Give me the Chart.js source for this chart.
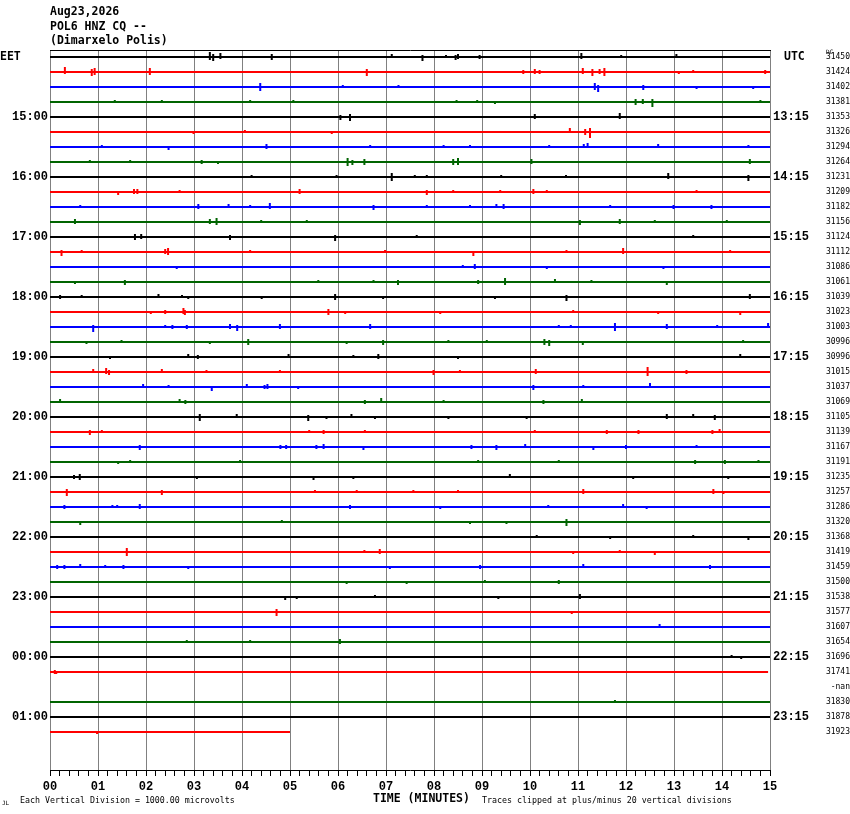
<!DOCTYPE html>
<html>
<head>
<meta charset="utf-8">
<script src="https://cdn.jsdelivr.net/npm/chart.js@4.4.1/dist/chart.umd.min.js"></script>
<style>
  html, body { margin: 0; padding: 0; background: #ffffff; }
  canvas { display: block; }
</style>
</head>
<body>
<canvas id="heliChart" width="850" height="814"></canvas>
<script>
// helicorder header
const stationDate = 'Aug23,2026';
const stationCode = 'POL6 HNZ CQ --';
const stationName = '(Dimarxelo Polis)';

// x axis: minutes after the start of each line
const minuteLabels = ['00', '01', '02', '03', '04', '05', '06', '07', '08', '09', '10', '11', '12', '13', '14', '15'];

// hour labels, one every 4 lines
const eetLabels = ['15:00', '16:00', '17:00', '18:00', '19:00', '20:00', '21:00', '22:00', '23:00', '00:00', '01:00'];
const utcLabels = ['13:15', '14:15', '15:15', '16:15', '17:15', '18:15', '19:15', '20:15', '21:15', '22:15', '23:15'];

// DC offset of every line
const dcOffsets = [
    '31450', '31424', '31402', '31381', '31353', '31326', '31294', '31264',
    '31231', '31209', '31182', '31156', '31124', '31112', '31086', '31061',
    '31039', '31023', '31003', '30996', '30996', '31015', '31037', '31069',
    '31105', '31139', '31167', '31191', '31235', '31257', '31286', '31320',
    '31368', '31419', '31459', '31500', '31538', '31577', '31607', '31654',
    '31696', '31741', '-nan', '31830', '31878', '31923'
];

// minute where each line stops (null = no data)
const traceEnds = [
    15, 15, 15, 15, 15, 15, 15, 15, 15, 15, 15, 15, 15, 15, 15, 15,
    15, 15, 15, 15, 15, 15, 15, 15, 15, 15, 15, 15, 15, 15, 15, 15,
    15, 15, 15, 15, 15, 15, 15, 15, 15, 14.96, null, 15, 15, 5
];

// wiggles on each line: [minute, up, down]
const traceEvents = [
    [[3.33, 5, 3], [3.4, 3, 4], [3.55, 4, 2], [4.62, 3, 3], [7.12, 3, 1], [7.76, 2, 4], [8.25, 2, 1], [8.45, 2, 3], [8.5, 3, 2], [8.95, 2, 2], [11.07, 4, 2], [11.9, 2, 1], [13.05, 3, 1]],
    [[0.31, 5, 2], [0.87, 3, 4], [0.93, 4, 3], [2.08, 4, 3], [6.6, 3, 4], [9.86, 2, 2], [10.1, 3, 2], [10.2, 2, 2], [11.1, 4, 2], [11.3, 3, 4], [11.45, 3, 2], [11.55, 4, 4], [13.1, 1, 2], [13.4, 2, 1], [14.9, 2, 2]],
    [[4.38, 4, 4], [6.1, 2, 1], [7.26, 2, 1], [11.35, 4, 3], [11.42, 2, 5], [12.36, 2, 3], [13.47, 1, 2], [14.65, 1, 2]],
    [[1.35, 2, 1], [2.33, 2, 1], [4.17, 2, 1], [5.07, 2, 1], [8.47, 2, 1], [8.9, 2, 1], [9.27, 1, 2], [12.2, 3, 3], [12.35, 3, 2], [12.55, 3, 5], [14.8, 2, 1]],
    [[6.05, 2, 3], [6.25, 3, 4], [10.1, 3, 2], [11.87, 4, 2]],
    [[2.99, 1, 2], [4.06, 2, 1], [5.87, 1, 2], [10.83, 4, 0], [11.15, 3, 3], [11.25, 4, 6]],
    [[1.08, 2, 1], [2.47, 1, 3], [4.51, 3, 2], [6.67, 2, 1], [8.2, 2, 1], [8.75, 2, 1], [10.4, 2, 1], [11.12, 3, 1], [11.2, 4, 1], [12.67, 3, 1], [14.55, 2, 1]],
    [[0.83, 2, 1], [1.67, 2, 1], [3.16, 2, 2], [3.5, 1, 2], [6.2, 4, 4], [6.3, 2, 3], [6.55, 3, 3], [8.4, 3, 3], [8.5, 4, 3], [10.03, 3, 2], [14.58, 3, 2]],
    [[4.2, 2, 1], [5.97, 2, 1], [7.12, 4, 4], [7.6, 2, 1], [7.85, 2, 1], [9.4, 2, 1], [10.75, 2, 1], [12.88, 4, 2], [14.55, 2, 4]],
    [[1.42, 1, 3], [1.75, 3, 2], [1.82, 3, 2], [2.7, 2, 1], [5.2, 3, 2], [7.85, 2, 3], [8.4, 2, 1], [9.38, 2, 1], [10.07, 3, 2], [10.35, 2, 1], [13.47, 2, 1]],
    [[0.63, 2, 1], [3.09, 3, 2], [3.72, 3, 1], [4.17, 2, 1], [4.58, 4, 2], [6.74, 2, 3], [7.85, 2, 1], [8.75, 2, 1], [9.3, 3, 1], [9.45, 3, 2], [11.67, 2, 1], [12.99, 2, 2], [13.78, 2, 2]],
    [[0.52, 3, 2], [3.33, 3, 2], [3.47, 4, 3], [4.4, 2, 1], [5.35, 2, 1], [11.04, 2, 3], [11.87, 3, 2], [12.6, 2, 1], [14.1, 2, 1]],
    [[1.77, 3, 3], [1.9, 3, 2], [3.75, 2, 3], [5.94, 2, 4], [7.64, 2, 1], [13.4, 2, 1]],
    [[0.24, 2, 4], [0.66, 2, 1], [2.4, 3, 2], [2.46, 4, 3], [4.17, 2, 1], [6.98, 2, 1], [8.82, 1, 4], [10.76, 2, 1], [11.94, 4, 2], [14.17, 2, 1]],
    [[2.64, 1, 2], [8.6, 2, 1], [8.85, 3, 2], [10.35, 1, 2], [12.78, 1, 2]],
    [[0.52, 1, 2], [1.56, 2, 3], [5.59, 2, 1], [6.74, 2, 1], [7.25, 2, 3], [8.92, 2, 2], [9.48, 4, 3], [10.52, 3, 1], [11.28, 2, 1], [12.85, 1, 3]],
    [[0.21, 2, 2], [0.66, 2, 1], [2.26, 3, 1], [2.75, 2, 1], [2.88, 1, 2], [4.41, 1, 2], [5.94, 3, 3], [6.94, 1, 2], [9.27, 1, 2], [10.76, 2, 4], [14.58, 3, 2]],
    [[2.1, 1, 2], [2.4, 2, 2], [2.78, 4, 2], [2.81, 2, 3], [5.8, 3, 3], [6.15, 1, 2], [8.13, 1, 2], [10.9, 2, 1], [12.67, 1, 2], [14.38, 1, 3]],
    [[0.9, 2, 5], [2.4, 2, 1], [2.55, 2, 2], [2.85, 2, 2], [3.75, 3, 2], [3.9, 2, 4], [4.79, 3, 2], [6.67, 3, 2], [10.6, 2, 1], [10.85, 2, 1], [11.77, 4, 4], [12.85, 3, 2], [13.9, 2, 1], [14.96, 4, 1]],
    [[0.76, 1, 2], [1.49, 2, 1], [3.33, 1, 2], [4.13, 3, 3], [6.18, 1, 2], [6.94, 2, 3], [8.3, 2, 1], [9.1, 2, 1], [10.3, 3, 3], [10.4, 2, 4], [11.1, 1, 3], [14.44, 2, 1]],
    [[1.25, 1, 2], [2.88, 3, 1], [3.08, 2, 2], [4.97, 3, 1], [6.32, 2, 1], [6.84, 3, 2], [8.5, 1, 2], [14.38, 3, 1]],
    [[0.9, 3, 1], [1.17, 4, 2], [1.23, 2, 3], [2.33, 3, 1], [3.26, 2, 1], [4.79, 2, 1], [7.99, 2, 3], [8.54, 2, 1], [10.12, 3, 2], [12.45, 5, 4], [13.26, 2, 2]],
    [[1.94, 3, 1], [2.47, 2, 1], [3.37, 1, 4], [4.1, 3, 1], [4.47, 2, 2], [4.53, 3, 2], [5.17, 1, 2], [10.07, 2, 3], [11.11, 2, 1], [12.5, 4, 1]],
    [[0.21, 3, 1], [2.7, 3, 1], [2.82, 2, 2], [6.56, 2, 2], [6.9, 4, 1], [8.2, 2, 1], [10.28, 2, 2], [11.08, 3, 1]],
    [[3.12, 3, 4], [3.89, 3, 1], [5.38, 2, 4], [5.76, 1, 2], [6.28, 3, 1], [6.77, 1, 2], [8.3, 1, 2], [9.93, 1, 2], [12.85, 3, 2], [13.4, 3, 1], [13.85, 2, 3]],
    [[0.83, 2, 3], [1.08, 2, 1], [5.4, 2, 1], [5.7, 2, 2], [6.56, 2, 1], [10.1, 2, 1], [11.6, 2, 2], [12.26, 2, 2], [13.8, 2, 2], [13.95, 3, 1]],
    [[1.87, 2, 3], [4.8, 2, 2], [4.92, 2, 2], [5.55, 2, 2], [5.7, 3, 2], [6.53, 1, 3], [8.78, 2, 2], [9.3, 2, 3], [9.9, 3, 1], [11.32, 1, 3], [12.0, 2, 2], [13.47, 2, 1]],
    [[1.42, 1, 2], [1.67, 2, 1], [3.96, 2, 1], [8.92, 2, 1], [10.6, 2, 1], [13.44, 2, 2], [14.06, 2, 2], [14.76, 2, 1]],
    [[0.5, 2, 2], [0.62, 3, 3], [3.06, 1, 2], [5.49, 1, 3], [6.32, 1, 2], [9.58, 3, 1], [12.15, 1, 2], [14.13, 1, 2]],
    [[0.35, 3, 4], [2.33, 2, 3], [5.52, 2, 1], [6.39, 2, 1], [7.57, 2, 1], [8.5, 2, 1], [11.11, 3, 2], [13.82, 3, 2], [14.03, 1, 2]],
    [[0.3, 2, 2], [1.3, 2, 1], [1.4, 2, 1], [1.87, 3, 2], [6.25, 2, 2], [8.13, 1, 2], [10.38, 2, 1], [11.94, 3, 1], [12.43, 1, 2]],
    [[0.63, 1, 3], [4.83, 2, 1], [8.75, 1, 2], [9.51, 1, 2], [10.76, 3, 4]],
    [[10.14, 2, 1], [11.67, 1, 2], [13.4, 2, 1], [14.55, 1, 3]],
    [[1.6, 4, 4], [6.55, 2, 1], [6.87, 3, 2], [10.9, 1, 2], [11.87, 2, 1], [12.6, 1, 3]],
    [[0.15, 2, 2], [0.3, 2, 2], [0.63, 3, 1], [1.15, 2, 1], [1.53, 2, 2], [2.88, 1, 2], [7.08, 1, 2], [8.96, 2, 2], [11.11, 3, 1], [13.75, 2, 2]],
    [[6.18, 1, 2], [7.43, 1, 2], [9.06, 2, 1], [10.6, 2, 2]],
    [[4.9, 1, 3], [5.14, 1, 2], [6.77, 2, 1], [9.34, 1, 2], [11.04, 3, 2]],
    [[4.72, 3, 4], [10.87, 1, 2]],
    [[12.7, 3, 1]],
    [[2.85, 2, 1], [4.17, 2, 1], [6.04, 3, 2]],
    [[14.2, 2, 1], [14.4, 1, 2]],
    [[0.1, 2, 2], [0.13, 1, 2]],
    [],
    [[11.77, 2, 1]],
    [],
    [[0.98, 1, 2]]
];

const traceColors = ['#000000', '#ff0000', '#0000ff', '#006400'];

// layout: y scale is in pixels of the plot box, one line every 15
const ROW_TOP = 7;
const ROW_STEP = 15;
const HOUR_EVERY = 4;
const rowValue = (i) => ROW_TOP + i * ROW_STEP;

const datasets = traceEvents.map((events, i) => {
    const base = rowValue(i);
    const end = traceEnds[i];
    const pts = [];
    if (end !== null) {
        pts.push({ x: 0, y: base });
        events.filter(e => e[0] < end).forEach(([t, up, down]) => {
            pts.push({ x: t, y: base }, { x: t, y: base - up }, { x: t, y: base + down }, { x: t, y: base });
        });
        pts.push({ x: end, y: base });
    }
    return {
        data: pts,
        borderColor: traceColors[i % 4],
        borderWidth: 2,
        borderJoinStyle: 'bevel',
        pointRadius: 0,
        tension: 0,
        xAxisID: 'x',
        yAxisID: 'yL'
    };
});

const hourRows = eetLabels.map((_, k) => (k + 1) * HOUR_EVERY);
const monoBold = "'Liberation Mono', monospace";
const sansMono = "'DejaVu Sans Mono', monospace";

// header, footer and corner labels
const textPlugin = {
    id: 'heliText',
    afterDraw(chart) {
        const c = chart.ctx;
        c.save();
        c.fillStyle = '#000';
        c.textBaseline = 'middle';
        c.textAlign = 'left';
        c.font = 'bold 11.5px ' + sansMono;
        c.fillText(stationDate, 50, 12);
        c.fillText(stationCode, 50, 27);
        c.fillText(stationName, 50, 41);
        c.fillText('EET', 0, 57);
        c.fillText('UTC', 784, 57);
        c.fillText('TIME (MINUTES)', 373, 799);
        c.font = '6px ' + sansMono;
        c.fillText('DC', 826, 52);
        c.fillText('JL', 2, 803);
        c.font = '8.3px ' + sansMono;
        c.fillText('Each Vertical Division = 1000.00 microvolts', 20, 801);
        c.fillText('Traces clipped at plus/minus 20 vertical divisions', 482, 801);
        c.restore();
    }
};

const yBase = {
    type: 'linear',
    min: 0,
    max: 720,
    reverse: true,
    grid: { display: false, drawTicks: false },
    border: { display: false }
};

new Chart(document.getElementById('heliChart'), {
    type: 'line',
    data: { datasets },
    options: {
        responsive: false,
        animation: false,
        devicePixelRatio: 1,
        layout: { padding: { top: 50, left: 0, right: 0, bottom: 0 } },
        plugins: {
            legend: { display: false },
            tooltip: { enabled: false }
        },
        scales: {
            x: {
                type: 'linear',
                position: 'bottom',
                min: 0,
                max: 15,
                afterBuildTicks: (s) => {
                    const ticks = [];
                    for (let i = 0; i <= 75; i++) ticks.push({ value: i / 5 });
                    s.ticks = ticks;
                },
                afterFit: (s) => { s.height = 44; },
                grid: {
                    color: (ctx) => (ctx.tick && Number.isInteger(ctx.tick.value)) ? '#808080' : 'rgba(0,0,0,0)',
                    tickColor: '#000000',
                    tickLength: 6,
                    lineWidth: 1
                },
                border: { display: true, color: '#000000', width: 1 },
                ticks: {
                    autoSkip: false,
                    maxRotation: 0,
                    minRotation: 0,
                    padding: 4,
                    color: '#000000',
                    font: { family: monoBold, size: 12, weight: 'bold' },
                    callback: (v) => Number.isInteger(v) ? minuteLabels[v] : ''
                }
            },
            xTop: {
                type: 'linear',
                position: 'top',
                min: 0,
                max: 15,
                afterFit: (s) => { s.height = 0; },
                grid: { display: false, drawTicks: false },
                border: { display: true, color: '#000000', width: 1 },
                ticks: { display: false }
            },
            yL: {
                ...yBase,
                position: 'left',
                afterBuildTicks: (s) => { s.ticks = hourRows.map(r => ({ value: rowValue(r) })); },
                afterFit: (s) => { s.width = 50; },
                ticks: {
                    autoSkip: false,
                    padding: 2,
                    color: '#000000',
                    font: { family: monoBold, size: 12, weight: 'bold' },
                    callback: (v) => eetLabels[(v - ROW_TOP) / ROW_STEP / HOUR_EVERY - 1]
                }
            },
            yU: {
                ...yBase,
                position: 'right',
                weight: 0,
                afterBuildTicks: (s) => { s.ticks = hourRows.map(r => ({ value: rowValue(r) })); },
                afterFit: (s) => { s.width = 48; },
                ticks: {
                    autoSkip: false,
                    padding: 3,
                    color: '#000000',
                    font: { family: monoBold, size: 12, weight: 'bold' },
                    callback: (v) => utcLabels[(v - ROW_TOP) / ROW_STEP / HOUR_EVERY - 1]
                }
            },
            yD: {
                ...yBase,
                position: 'right',
                weight: 1,
                afterBuildTicks: (s) => { s.ticks = dcOffsets.map((_, i) => ({ value: rowValue(i) })); },
                afterFit: (s) => { s.width = 32; },
                ticks: {
                    autoSkip: false,
                    padding: 3,
                    crossAlign: 'far',
                    color: '#000000',
                    font: { family: sansMono, size: 8 },
                    callback: (v) => dcOffsets[(v - ROW_TOP) / ROW_STEP]
                }
            }
        }
    },
    plugins: [textPlugin]
});
</script>
</body>
</html>
